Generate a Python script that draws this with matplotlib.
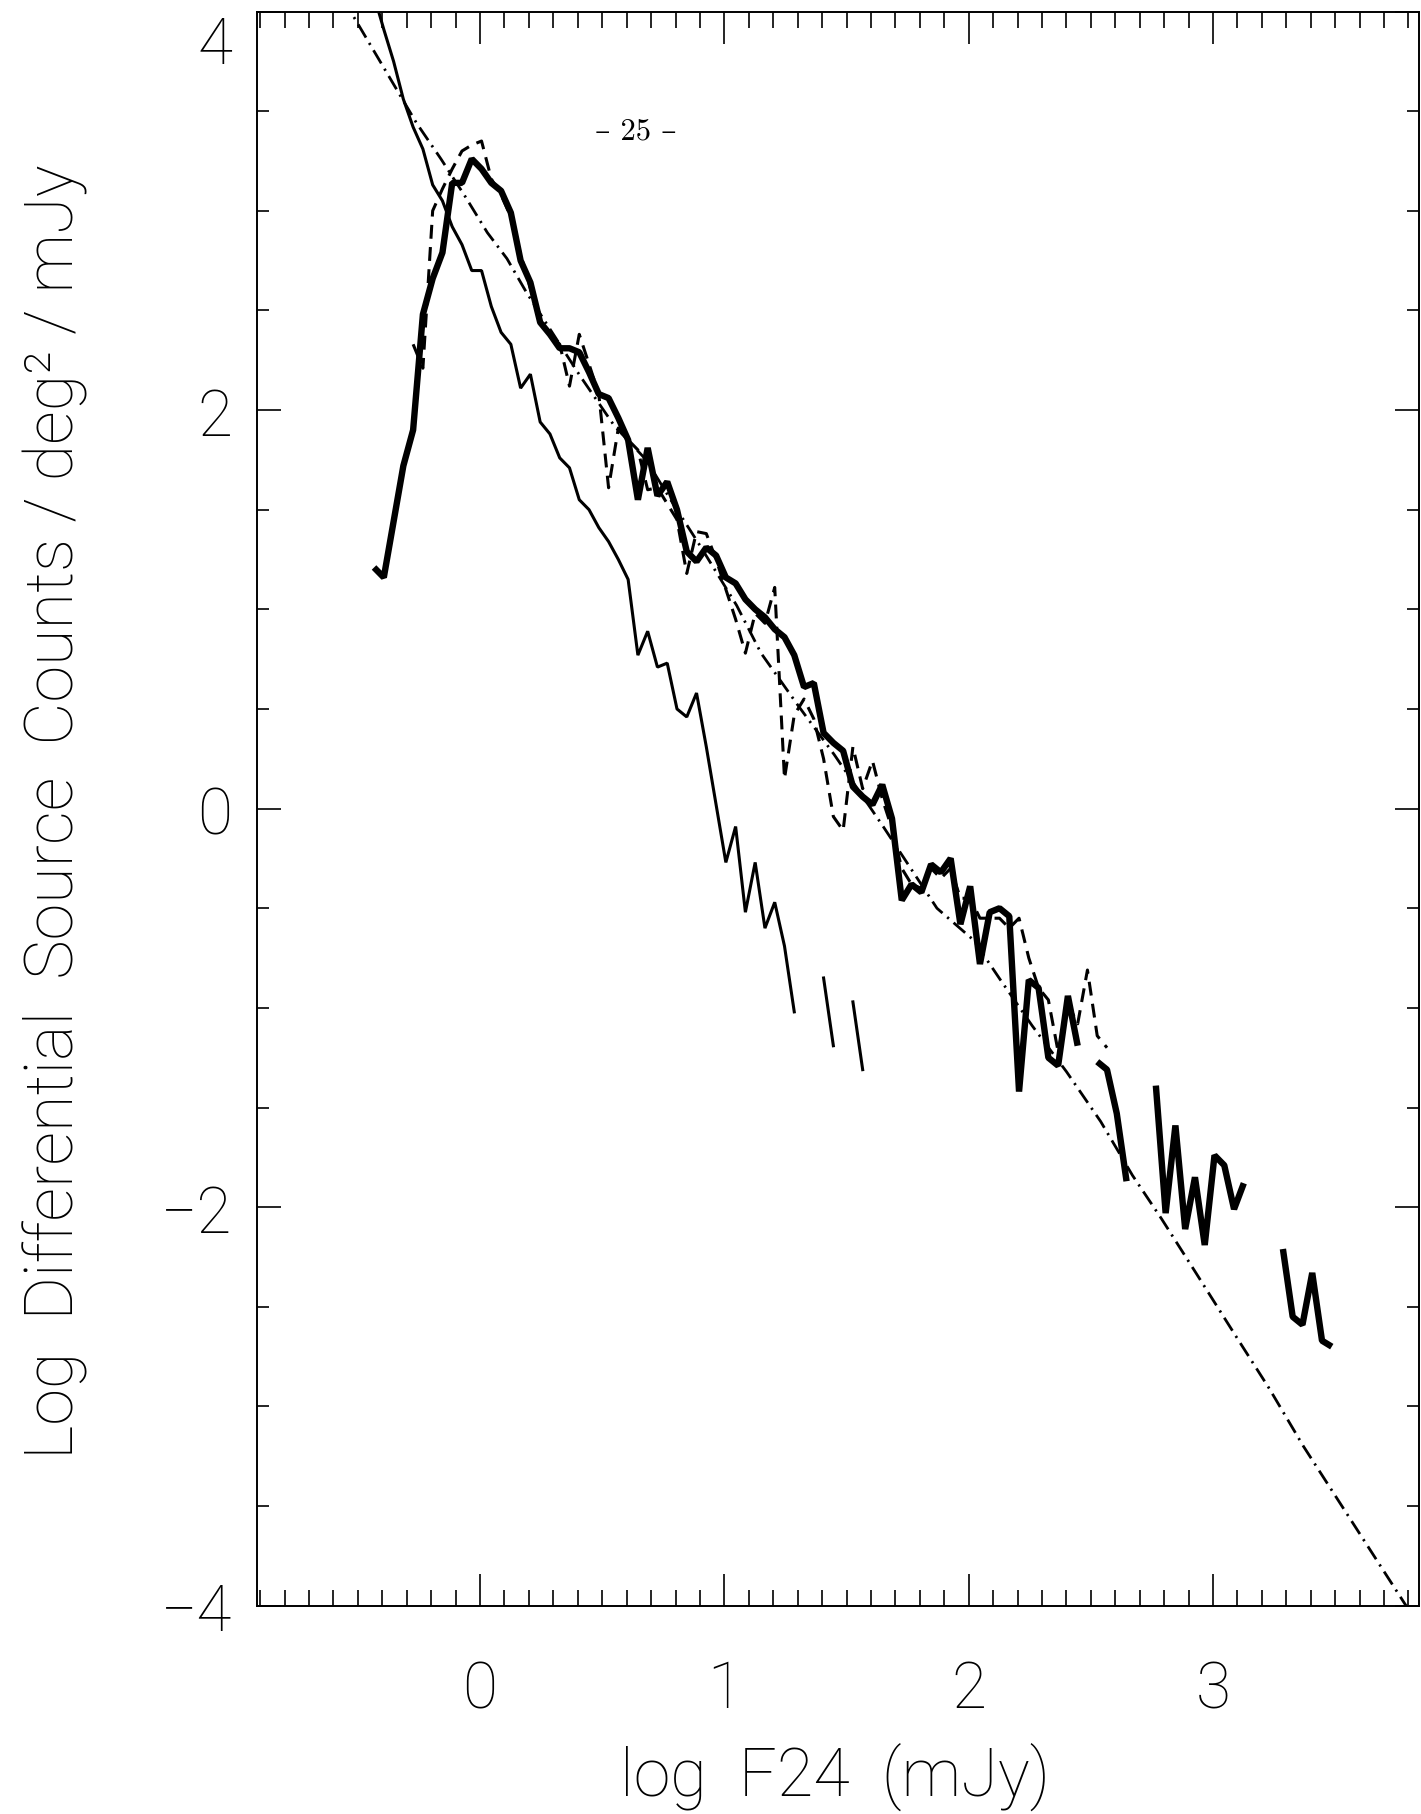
import numpy as np
import matplotlib
matplotlib.use("Agg")
import matplotlib.pyplot as plt
import matplotlib.transforms as mtransforms
from matplotlib.ticker import FixedLocator, FixedFormatter, MultipleLocator

plt.rcParams['font.family'] = ['Roboto', 'DejaVu Sans']
plt.rcParams['font.weight'] = 'light'
plt.rcParams['lines.scale_dashes'] = False

nan = np.nan

# log flux bin centres (dex, mJy)
log_flux = [-0.434, -0.394, -0.354, -0.314, -0.274, -0.234, -0.194, -0.154, -0.114, -0.074,
            -0.034, 0.006, 0.046, 0.086, 0.126, 0.166, 0.206, 0.246, 0.286, 0.326,
            0.366, 0.406, 0.446, 0.486, 0.526, 0.566, 0.606, 0.646, 0.686, 0.726,
            0.766, 0.806, 0.846, 0.886, 0.926, 0.966, 1.006, 1.046, 1.086, 1.126,
            1.166, 1.206, 1.246, 1.286, 1.326, 1.366, 1.406, 1.446, 1.486, 1.526,
            1.566, 1.606, 1.646, 1.686, 1.726, 1.766, 1.806, 1.846, 1.886, 1.926,
            1.966, 2.006, 2.046, 2.086, 2.126, 2.166, 2.206, 2.246, 2.286, 2.326,
            2.366, 2.406, 2.446, 2.486, 2.526, 2.566, 2.606, 2.646, 2.686, 2.726,
            2.766, 2.806, 2.846, 2.886, 2.926, 2.966, 3.006, 3.046, 3.086, 3.126,
            3.166, 3.206, 3.246, 3.286, 3.326, 3.366, 3.406, 3.446, 3.486]

# full catalogue counts (thick line); NaN = empty bin
counts_all = [1.21, 1.16, 1.44, 1.72, 1.90, 2.48, 2.66, 2.79, 3.14, 3.14,
              3.26, 3.21, 3.14, 3.10, 2.99, 2.75, 2.64, 2.44, 2.38, 2.31,
              2.31, 2.29, 2.19, 2.08, 2.06, 1.96, 1.85, 1.55, 1.81, 1.57,
              1.64, 1.50, 1.29, 1.24, 1.31, 1.27, 1.16, 1.13, 1.05, 1.00,
              0.96, 0.90, 0.86, 0.77, 0.61, 0.63, 0.38, 0.33, 0.29, 0.11,
              0.06, 0.02, 0.12, -0.05, -0.46, -0.38, -0.42, -0.28, -0.32, -0.25,
              -0.58, -0.39, -0.78, -0.52, -0.50, -0.54, -1.42, -0.86, -0.90, -1.25,
              -1.29, -0.94, -1.19, nan, -1.27, -1.31, -1.53, -1.87, nan, nan,
              -1.39, -2.03, -1.59, -2.11, -1.85, -2.19, -1.74, -1.79, -2.01, -1.88,
              nan, nan, nan, -2.21, -2.55, -2.59, -2.33, -2.67, -2.70]

# second field counts (dashed line), bins 4..75
sample_start = 4
counts_sample = [2.33, 2.21, 3.00, 3.11, 3.21, 3.30, 3.33, 3.35, 3.16, 3.08,
                 2.97, 2.78, 2.61, 2.45, 2.38, 2.33, 2.12, 2.38, 2.23, 2.08,
                 1.61, 1.91, 1.85, 1.80, 1.60, 1.61, 1.53, 1.45, 1.18, 1.39,
                 1.38, 1.25, 1.10, 0.95, 0.78, 0.98, 0.93, 1.11, 0.15, 0.47,
                 0.55, 0.45, 0.25, -0.04, -0.11, 0.31, 0.10, 0.24, 0.05, -0.10,
                 -0.30, -0.38, -0.40, -0.30, -0.35, -0.30, -0.45, -0.45, -0.55, -0.55,
                 -0.55, -0.60, -0.55, -0.75, -0.90, -0.96, -1.22, -0.98, -1.08, -0.81,
                 -1.14, -1.20]

# shallow field counts (thin line), bins 0..50
counts_faint = [4.08, 3.91, 3.75, 3.56, 3.42, 3.31, 3.13, 3.05, 2.92, 2.83,
                2.70, 2.70, 2.52, 2.39, 2.33, 2.11, 2.18, 1.94, 1.88, 1.76,
                1.71, 1.55, 1.50, 1.41, 1.34, 1.25, 1.15, 0.77, 0.89, 0.71,
                0.73, 0.50, 0.46, 0.58, 0.31, 0.02, -0.27, -0.09, -0.52, -0.27,
                -0.60, -0.47, -0.69, -1.02, nan, nan, -0.85, -1.19, nan, -0.97,
                -1.31]

# model prediction (dash-dot line)
model_x = [-0.60, -0.53, -0.26, -0.16, -0.06, 0.03, 0.11, 0.19, 0.41, 0.55,
           0.68, 0.78, 0.90, 1.05, 1.15, 1.30, 1.45, 1.65, 1.87, 2.02,
           2.13, 2.26, 2.40, 2.54, 2.67, 2.79, 2.93, 3.10, 3.23, 3.37,
           3.58, 3.79, 3.86]
model_y = [4.13, 4.00, 3.44, 3.26, 3.07, 2.89, 2.76, 2.59, 2.17, 1.92,
           1.75, 1.55, 1.32, 1.02, 0.78, 0.52, 0.27, -0.09, -0.50, -0.66,
           -0.86, -1.09, -1.32, -1.57, -1.84, -2.06, -2.33, -2.66, -2.91, -3.20,
           -3.60, -4.00, -4.13]

x_ticks = [0, 1, 2, 3]
x_ticklabels = ['0', '1', '2', '3']
y_ticks = [-4, -2, 0, 2, 4]
y_ticklabels = ['\u22124', '\u22122', '0', '2', '']
y_top_label = '4'

W, H = 1421, 1815
fig = plt.figure(figsize=(W / 100, H / 100), dpi=100)
ax = fig.add_axes([257 / W, 1 - 1606.7 / H, 1162 / W, (1606.7 - 12.5) / H])
ax.set_xlim(-0.913, 3.843)
ax.set_ylim(-4, 4)

ax.plot(model_x, model_y, color='k', lw=2.0, dashes=(11, 4.5, 1.6, 4.5))
ax.plot(log_flux[:len(counts_faint)], counts_faint, color='k', lw=2.2,
        solid_joinstyle='bevel')
ax.plot(log_flux[sample_start:sample_start + len(counts_sample)], counts_sample,
        color='k', lw=2.2, dashes=(10, 6))
ax.plot(log_flux, counts_all, color='k', lw=4.6, solid_joinstyle='bevel',
        solid_capstyle='butt')

for s in ax.spines.values():
    s.set_linewidth(1.4)

ax.xaxis.set_major_locator(FixedLocator(x_ticks))
ax.xaxis.set_major_formatter(FixedFormatter(x_ticklabels))
ax.xaxis.set_minor_locator(MultipleLocator(0.1))
ax.yaxis.set_major_locator(FixedLocator(y_ticks))
ax.yaxis.set_major_formatter(FixedFormatter(y_ticklabels))
ax.yaxis.set_minor_locator(MultipleLocator(0.5))

ax.tick_params(axis='x', which='major', direction='in', length=23, width=1.2,
               top=True, bottom=True, pad=38, labelsize=46)
ax.tick_params(axis='x', which='minor', direction='in', length=11.5, width=1.2,
               top=True, bottom=True)
ax.tick_params(axis='y', which='major', direction='in', length=17, width=1.2,
               left=True, right=True, pad=18, labelsize=46)
ax.tick_params(axis='y', which='minor', direction='in', length=8.5, width=1.2,
               left=True, right=True)

# the top label sits below the frame edge instead of being centred on it
top_tf = mtransforms.offset_copy(ax.get_yaxis_transform(), fig=fig,
                                 x=-18, y=-2, units='points')
ax.text(0, 4, y_top_label, transform=top_tf, ha='right', va='top', fontsize=46)

fig.text(55 / W, 1 - 812 / H,
         'Log  Differential  Source  Counts / deg\u00b2 / mJy',
         rotation=90, ha='center', va='center', fontsize=48)
fig.text(835 / W, 1 - 1777 / H, 'log  F24  (mJy)', ha='center', va='center',
         fontsize=48)
fig.text(636 / W, 1 - 132 / H, '\u2013 25 \u2013', ha='center', va='center',
         fontsize=22, family=['cmr10', 'DejaVu Serif'], fontweight='normal')

fig.savefig('out.png', dpi=100)
